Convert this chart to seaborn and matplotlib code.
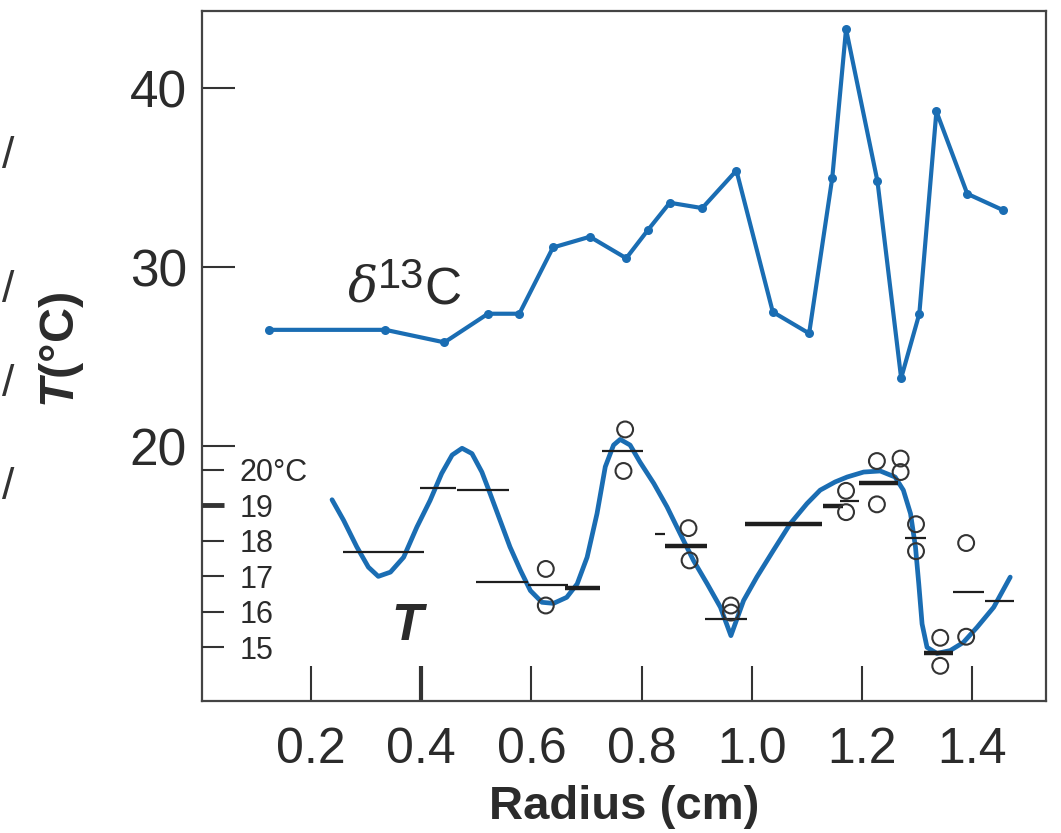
import matplotlib
matplotlib.use('Agg')
import matplotlib.pyplot as plt
import seaborn as sns
import pandas as pd

# delta 13C profile (plotted on the main axis scale)
d13c_radius = [0.123, 0.335, 0.442, 0.521, 0.578, 0.639, 0.706, 0.772, 0.812, 0.851,
               0.910, 0.972, 1.038, 1.104, 1.146, 1.171, 1.228, 1.271, 1.304, 1.335,
               1.391, 1.455]
d13c_value = [26.5, 26.5, 25.8, 27.4, 27.4, 31.1, 31.7, 30.5, 32.1, 33.6,
              33.3, 35.4, 27.5, 26.3, 35.0, 43.3, 34.8, 23.8, 27.4, 38.7,
              34.1, 33.2]

# smoothed temperature curve (deg C)
t_radius = [0.238, 0.259, 0.283, 0.304, 0.322, 0.344, 0.368, 0.392, 0.416, 0.437,
            0.456, 0.474, 0.492, 0.510, 0.525, 0.543, 0.561, 0.580, 0.598, 0.619,
            0.640, 0.664, 0.683, 0.701, 0.719, 0.734, 0.749, 0.761, 0.779, 0.797,
            0.822, 0.846, 0.870, 0.894, 0.919, 0.943, 0.962, 0.985, 1.009, 1.039,
            1.070, 1.100, 1.124, 1.151, 1.173, 1.203, 1.233, 1.260, 1.275, 1.288,
            1.297, 1.303, 1.309, 1.318, 1.336, 1.360, 1.384, 1.409, 1.439, 1.469]
t_curve = [19.16, 18.58, 17.83, 17.26, 17.00, 17.12, 17.54, 18.39, 19.14, 19.90,
           20.42, 20.61, 20.46, 19.94, 19.33, 18.58, 17.83, 17.17, 16.60, 16.27,
           16.24, 16.41, 16.79, 17.54, 18.77, 20.09, 20.70, 20.86, 20.70, 20.22,
           19.62, 18.96, 18.20, 17.45, 16.79, 16.13, 15.33, 16.32, 16.98, 17.73,
           18.49, 19.05, 19.43, 19.66, 19.80, 19.94, 19.97, 19.80, 19.43, 18.77,
           17.83, 16.79, 15.66, 15.00, 14.83, 14.91, 15.14, 15.57, 16.13, 16.98]

# individual temperature measurements (open circles)
obs_radius = [0.626, 0.626, 0.770, 0.767, 0.885, 0.887, 0.962, 0.962, 1.171, 1.171,
              1.227, 1.227, 1.270, 1.270, 1.298, 1.298, 1.342, 1.342, 1.389, 1.389]
obs_temp = [17.21, 16.18, 21.14, 19.97, 18.36, 17.45, 16.18, 15.98, 19.41, 18.81,
            20.25, 19.03, 20.32, 19.94, 18.47, 17.71, 15.27, 14.48, 17.94, 15.30]

# averaged temperature over sampled radius intervals
seg_start = [0.257, 0.398, 0.464, 0.500, 0.594, 0.661, 0.728, 0.824, 0.842, 0.915,
             0.988, 1.129, 1.160, 1.194, 1.278, 1.313, 1.366, 1.423]
seg_end = [0.405, 0.463, 0.560, 0.594, 0.667, 0.725, 0.803, 0.842, 0.919, 0.992,
           1.127, 1.166, 1.195, 1.265, 1.316, 1.365, 1.422, 1.476]
seg_temp = [17.68, 19.49, 19.43, 16.84, 16.77, 16.67, 20.54, 18.20, 17.86, 15.79,
            18.47, 18.99, 19.12, 19.62, 18.08, 14.85, 16.55, 16.32]
seg_kind = ['fine', 'fine', 'fine', 'fine', 'fine', 'bulk', 'fine', 'fine', 'bulk', 'fine',
            'bulk', 'bulk', 'fine', 'bulk', 'fine', 'bulk', 'fine', 'fine']

x_ticks = [0.2, 0.4, 0.6, 0.8, 1.0, 1.2, 1.4]
y_ticks = [20, 30, 40]
t_ticks = [15, 16, 17, 18, 19, 20]
t_tick_labels = ['15', '16', '17', '18', '19', '20°C']

BLUE = '#1a6db3'
INK = '#2b2b2b'

sns.set_style('ticks')
plt.rcParams['font.family'] = ['Liberation Sans', 'DejaVu Sans']
plt.rcParams['mathtext.fontset'] = 'custom'
plt.rcParams['mathtext.it'] = 'Liberation Sans:italic:bold'
plt.rcParams['mathtext.rm'] = 'Liberation Sans:bold'

fig = plt.figure(figsize=(10.61, 8.33), dpi=100)
ax = fig.add_axes([0.1904, 0.1585, 0.7955, 0.8283])
ax2 = ax.twinx()

d13c_df = pd.DataFrame({'radius': d13c_radius, 'd13c': d13c_value})
curve_df = pd.DataFrame({'radius': t_radius, 'temp': t_curve})
obs_df = pd.DataFrame({'radius': obs_radius, 'temp': obs_temp})

sns.lineplot(data=d13c_df, x='radius', y='d13c', ax=ax, color=BLUE, lw=3.0,
             marker='o', markersize=6.5, markeredgewidth=0)

sns.lineplot(data=curve_df, x='radius', y='temp', ax=ax2, color=BLUE, lw=3.4)
for x0, x1, t, kind in zip(seg_start, seg_end, seg_temp, seg_kind):
    ax2.hlines(t, x0, x1, color='#1e1e1e', lw=3.2 if kind == 'bulk' else 1.6)
sns.scatterplot(data=obs_df, x='radius', y='temp', ax=ax2, marker='o', s=130,
                facecolor='none', edgecolor='#333333', linewidth=1.5, zorder=5)

ax.set_xlim(0.002, 1.534)
ax.set_ylim(5.77, 44.31)
ax2.set_ylim(13.49, 32.93)

# main axis styling
for sp in ax.spines.values():
    sp.set_visible(True)
    sp.set_color('#444444')
    sp.set_linewidth(1.6)
for sp in ax2.spines.values():
    sp.set_visible(False)

ax.set_xticks(x_ticks)
ax.set_xticklabels([f'{v:.1f}' for v in x_ticks])
ax.set_yticks(y_ticks)
ax.tick_params(axis='x', direction='in', length=25, width=1.5, pad=18.5,
               labelsize=36, labelcolor=INK, color='#333333')
ax.tick_params(axis='y', direction='in', length=24, width=1.5, pad=11,
               labelsize=37, labelcolor=INK, color='#333333')
ax.xaxis.get_major_ticks()[1].tick1line.set_markeredgewidth(3)

# inner temperature scale
ax2.yaxis.set_ticks_position('left')
ax2.set_yticks(t_ticks)
ax2.set_yticklabels(t_tick_labels)
ax2.tick_params(axis='y', which='both', left=True, right=False, labelleft=True,
                labelright=False, direction='in', length=16, width=1.5,
                pad=-27, labelsize=22, labelcolor=INK, color='#333333')
for lab in ax2.get_yticklabels():
    lab.set_horizontalalignment('left')
ax2.yaxis.get_major_ticks()[4].tick1line.set_markeredgewidth(3.5)
ax2.set_ylabel('')
ax2.set_xlabel('')

ax.set_xlabel('Radius (cm)', fontsize=34, fontweight='bold', color=INK, labelpad=9)
ax.set_ylabel(r'$T$(°C)', fontsize=35, fontweight='bold', color=INK)
ax.yaxis.set_label_coords(-0.138, 0.509)

# series labels
ax.text(0.267, 28.07, 'δ', family='DejaVu Serif', style='italic', fontsize=36,
        color=INK, ha='left', va='baseline')
ax.text(0.321, 28.85, '13', fontsize=30, color=INK, ha='left', va='baseline')
ax.text(0.405, 27.9, 'C', fontsize=37, color=INK, ha='left', va='baseline')
ax2.text(0.345, 15.2, r'$T$', fontsize=37, color=INK, ha='left', va='baseline')

# fragments of the neighbouring panel at the left edge
for yy in [157, 290, 385, 487]:
    fig.text(0.002, 1 - yy / 833, '/', fontsize=32, color='#333333',
             ha='left', va='center')

fig.savefig('out.png', dpi=100)
